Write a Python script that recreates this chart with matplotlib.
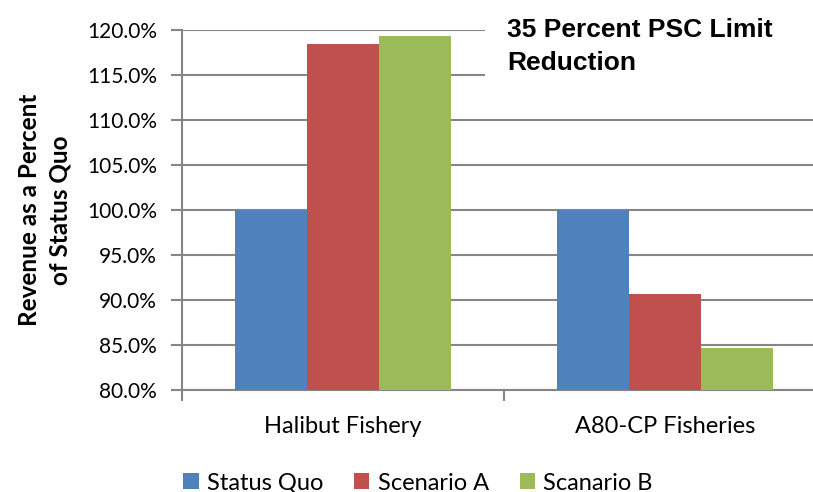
import matplotlib
matplotlib.use('Agg')
import matplotlib.pyplot as plt
from matplotlib import patches
from matplotlib.ticker import FuncFormatter
import numpy as np

categories = ['Halibut Fishery', 'A80-CP Fisheries']
series_names = ['Status Quo', 'Scenario A', 'Scanario B']
status_quo = [100.0, 100.0]
scenario_a = [118.5, 90.7]
scenario_b = [119.3, 84.7]
y_ticks = [80, 85, 90, 95, 100, 105, 110, 115, 120]

colors = ['#4F81BD', '#C0504D', '#9BBB59']
grid_color = '#868686'
font = 'Lato'

fig = plt.figure(figsize=(8.13, 4.92), dpi=100)
ax = fig.add_axes([182/813, 1-390/492, 644/813, 360/492])

x = np.arange(len(categories))
w = 0.224
for i, vals in enumerate([status_quo, scenario_a, scenario_b]):
    ax.bar(x + (i-1)*w, np.array(vals) - 80, bottom=80, width=w, color=colors[i],
           label=series_names[i], zorder=3)

ax.set_xlim(-0.5, 1.5)
ax.set_ylim(80, 120)
ax.set_yticks(y_ticks)
ax.yaxis.set_major_formatter(FuncFormatter(lambda v, p: '%.1f%%' % v))
ax.grid(axis='y', color=grid_color, lw=1.5, zorder=0)

# category boundary ticks, labels in between
ax.set_xticks([-0.5, 0.5, 1.5])
ax.set_xticklabels([])
ax.set_xticks(x, minor=True)
ax.set_xticklabels(categories, minor=True, fontsize=17, fontname=font)
ax.tick_params(axis='x', which='minor', length=0, pad=19)
ax.tick_params(axis='x', which='major', length=8, width=1.5, color=grid_color)
ax.tick_params(axis='y', length=8, width=1.5, color=grid_color, pad=10, labelsize=15)
for lab in ax.get_yticklabels():
    lab.set_fontname(font)

for s in ['top', 'right']:
    ax.spines[s].set_visible(False)
for s in ['left', 'bottom']:
    ax.spines[s].set_color(grid_color)
    ax.spines[s].set_linewidth(1.5)

ax.set_ylabel('Revenue as a Percent\nof Status Quo', fontsize=17.5, fontname=font,
              fontweight='bold', labelpad=11, linespacing=1.4)

# white box behind the title hides the upper gridlines
fig.patches.append(patches.Rectangle((485/813, 1-90/492), 1, 90/492, transform=fig.transFigure,
                                     facecolor='white', edgecolor='none', zorder=1))
fig.text(507/813, 1-18/492, '35 Percent PSC Limit\nReduction', ha='left', va='top',
         fontsize=19, fontweight='bold', fontname='Liberation Sans', linespacing=1.5, zorder=2)

leg = fig.legend(loc='center', bbox_to_anchor=(418/813, 1-483/492), ncol=3, frameon=False,
                 prop={'family': font, 'size': 17}, handlelength=0.65, handleheight=0.65,
                 handletextpad=0.35, columnspacing=1.3)

fig.savefig('out.png', dpi=100)
